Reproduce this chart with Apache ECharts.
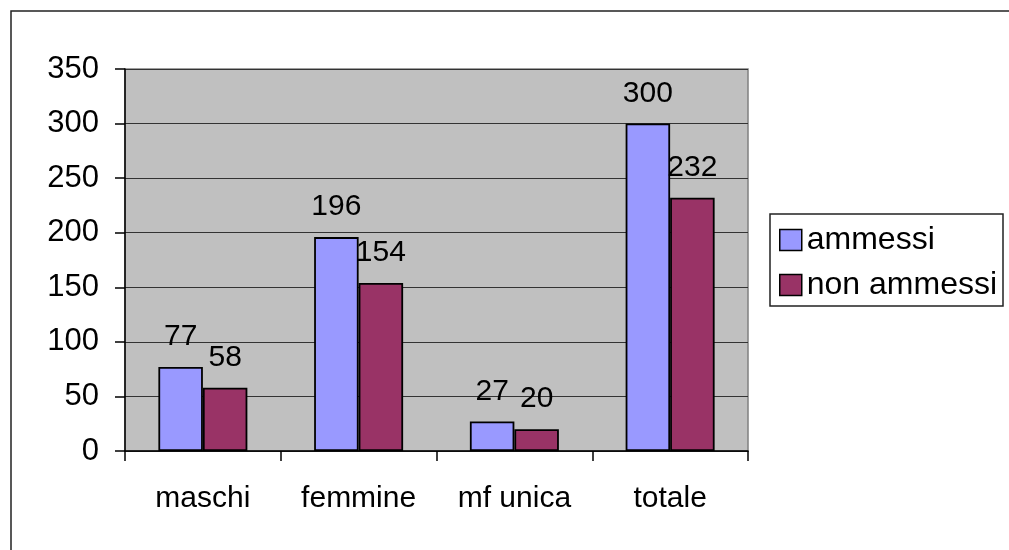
<!DOCTYPE html>
<html>
<head>
<meta charset="utf-8">
<script src="https://cdn.jsdelivr.net/npm/echarts@6/dist/echarts.min.js"></script>
<style>html,body{margin:0;padding:0;background:#fff}#c{width:1009px;height:550px}</style>
</head>
<body>
<div id="c"></div>
<script>
const categories = ['maschi', 'femmine', 'mf unica', 'totale'];
const ammessi = [77, 196, 27, 300];
const nonAmmessi = [58, 154, 20, 232];
const seriesNames = ['ammessi', 'non ammessi'];

const FONT = 'Liberation Sans, Arial, sans-serif';
const chart = echarts.init(document.getElementById('c'), null, {renderer: 'canvas'});
const labelCfg = {show: true, position: 'top', distance: 15, color: '#000', fontSize: 30, fontFamily: FONT};
chart.setOption({
  animation: false,
  backgroundColor: '#fff',
  grid: {left: 125, right: 261, top: 69, bottom: 99, show: true, backgroundColor: '#c0c0c0', borderColor: '#808080', borderWidth: 1.5},
  legend: {
    orient: 'vertical', left: 779, top: 224, padding: 0,
    itemWidth: 22, itemHeight: 21, itemGap: 13,
    textStyle: {fontSize: 32, fontFamily: FONT, color: '#000', lineHeight: 32},
    itemStyle: {borderColor: '#000', borderWidth: 1.5},
    icon: 'rect'
  },
  xAxis: {
    type: 'category', data: categories,
    axisLine: {lineStyle: {color: '#000', width: 1.5}},
    axisTick: {show: true, length: 10, lineStyle: {color: '#000', width: 1.5}, alignWithLabel: false},
    axisLabel: {fontSize: 30, fontFamily: FONT, color: '#000', margin: 33},
    splitLine: {show: false}
  },
  yAxis: {
    type: 'value', min: 0, max: 350, interval: 50,
    axisLine: {show: true, lineStyle: {color: '#000', width: 1.5}},
    axisTick: {show: true, length: 10, lineStyle: {color: '#000', width: 1.5}},
    axisLabel: {fontSize: 31, fontFamily: FONT, color: '#000', margin: 26, padding: [4, 0, 0, 0]},
    splitLine: {show: true, lineStyle: {color: '#333', width: 1.2}}
  },
  series: [
    {name: seriesNames[0], type: 'bar', data: ammessi, barWidth: 44.5, barGap: '0%',
     itemStyle: {color: '#9999ff', borderColor: '#000', borderWidth: 1.8}, label: labelCfg},
    {name: seriesNames[1], type: 'bar', data: nonAmmessi, barWidth: 44.5,
     itemStyle: {color: '#993366', borderColor: '#000', borderWidth: 1.8}, label: labelCfg}
  ],
  graphic: [
    {type: 'polyline', shape: {points: [[11, 550], [11, 11], [1009, 11]]}, style: {stroke: '#222', lineWidth: 1.5, fill: null}, z: 10},
    {type: 'rect', shape: {x: 770, y: 214, width: 233, height: 92}, style: {stroke: '#222', lineWidth: 1.5, fill: '#fff'}, z: -1}
  ]
});
</script>
</body>
</html>
